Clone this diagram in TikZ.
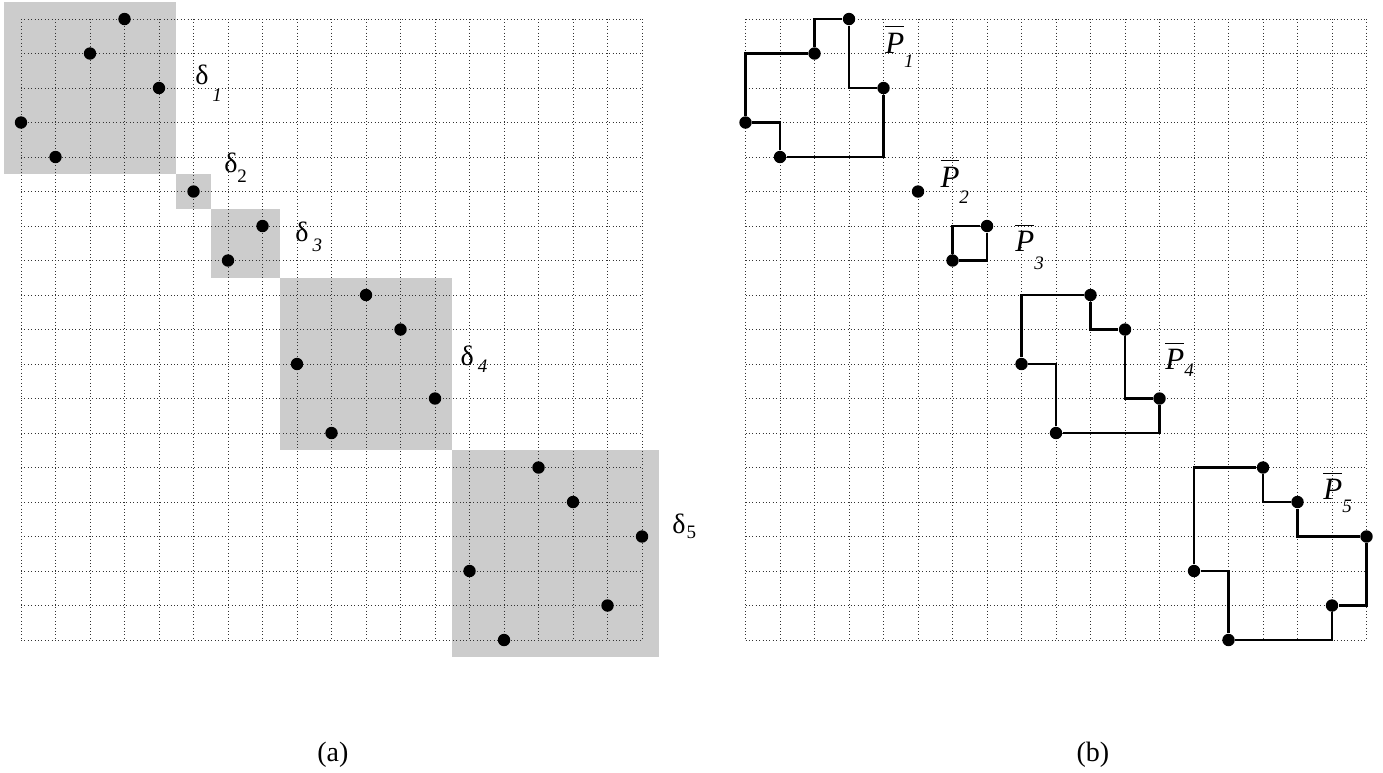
\documentclass[tikz,border=0pt]{standalone}
\usepackage{fontspec}
\setmainfont{Liberation Serif}
\newcommand{\subsz}{\fontsize{9.5}{11}\selectfont}
\newcommand{\pbar}{$\overline{\hbox{\fontsize{15.5}{17}\selectfont\textit{P}\rule{0pt}{12pt}}}$}

\begin{document}
\begin{tikzpicture}[x=17.25pt, y=-17.25pt,
    vertex/.style={circle, fill=black, inner sep=0pt, minimum size=6.2pt},
    gridline/.style={line width=0.5pt, dash pattern=on 0.5pt off 1.2pt, black!80},
    block/.style={fill=black!20},
    walk/.style={line width=1.2pt},
    lbl/.style={anchor=base west, inner sep=0pt, font=\fontsize{14}{16}\selectfont},
    paneltag/.style={anchor=base, inner sep=0pt, font=\fontsize{14}{16}\selectfont}]

    \useasboundingbox (-0.6087,-0.5507) rectangle (39.478,21.826);

    % Shaded blocks (left panel)
    \fill[block] (-0.5,-0.5) rectangle (4.5,4.5);
    \fill[block] (4.5,4.5) rectangle (5.5,5.5);
    \fill[block] (5.5,5.5) rectangle (7.5,7.5);
    \fill[block] (7.5,7.5) rectangle (12.5,12.5);
    \fill[block] (12.5,12.5) rectangle (18.5,18.5);

    % Dotted grids
    \foreach \i in {0,...,18} {
        \draw[gridline] (\i,0) -- (\i,18);
        \draw[gridline] (0,\i) -- (18,\i);
        \draw[gridline] (\i+21,0) -- (\i+21,18);
        \draw[gridline] (21,\i) -- (39,\i);
    }

    % Points of the permutation, left and right
    \foreach \c [count=\r from 0] in {3,2,4,0,1,5,7,6,10,11,8,12,9,15,16,18,13,17,14} {
        \node[vertex] (a\r) at (\c,\r) {};
        \node[vertex] (b\r) at (\c+21,\r) {};
    }

    % Boundaries
    \draw[walk] (b3) |- (b1) |- (b0) |- (b2) |- (b4) |- (b3);
    \draw[walk] (b7) |- (b6) |- (b7);
    \draw[walk] (b10) |- (b8) |- (b9) |- (b11) |- (b12) |- (b10);
    \draw[walk] (b16) |- (b13) |- (b14) |- (b15) |- (b17) |- (b18) |- (b16);

    % Labels
    \node[lbl] (d1) at (5.04,1.91) {δ\kern2pt\raisebox{-8.5pt}{\subsz\textit{1}}};
    \node[lbl] (d2) at (5.88,4.44) {δ\raisebox{-5pt}{\subsz 2}};
    \node[lbl] (d3) at (7.94,6.46) {δ\kern2pt\raisebox{-5pt}{\subsz\textit{3}}};
    \node[lbl] (d4) at (12.73,10.03) {δ\kern2pt\raisebox{-3.5pt}{\subsz\textit{4}}};
    \node[lbl] (d5) at (18.87,14.9) {δ\kern0.5pt\raisebox{-2.5pt}{\subsz 5}};

    \node[lbl] (p1) at (25.04,0.99) {\pbar\raisebox{-7pt}{\subsz\textit{1}}};
    \node[lbl] (p2) at (26.64,4.87) {\pbar\raisebox{-8pt}{\subsz\textit{2}}};
    \node[lbl] (p3) at (28.81,6.75) {\pbar\raisebox{-9pt}{\subsz\textit{3}}};
    \node[lbl] (p4) at (33.16,10.17) {\pbar\raisebox{-3.5pt}{\subsz\textit{4}}};
    \node[lbl] (p5) at (37.74,13.94) {\pbar\raisebox{-6.5pt}{\subsz\textit{5}}};

    \node[paneltag] (capa) at (9.04,21.53) {(a)};
    \node[paneltag] (capb) at (31.07,21.53) {(b)};
\end{tikzpicture}
\end{document}
